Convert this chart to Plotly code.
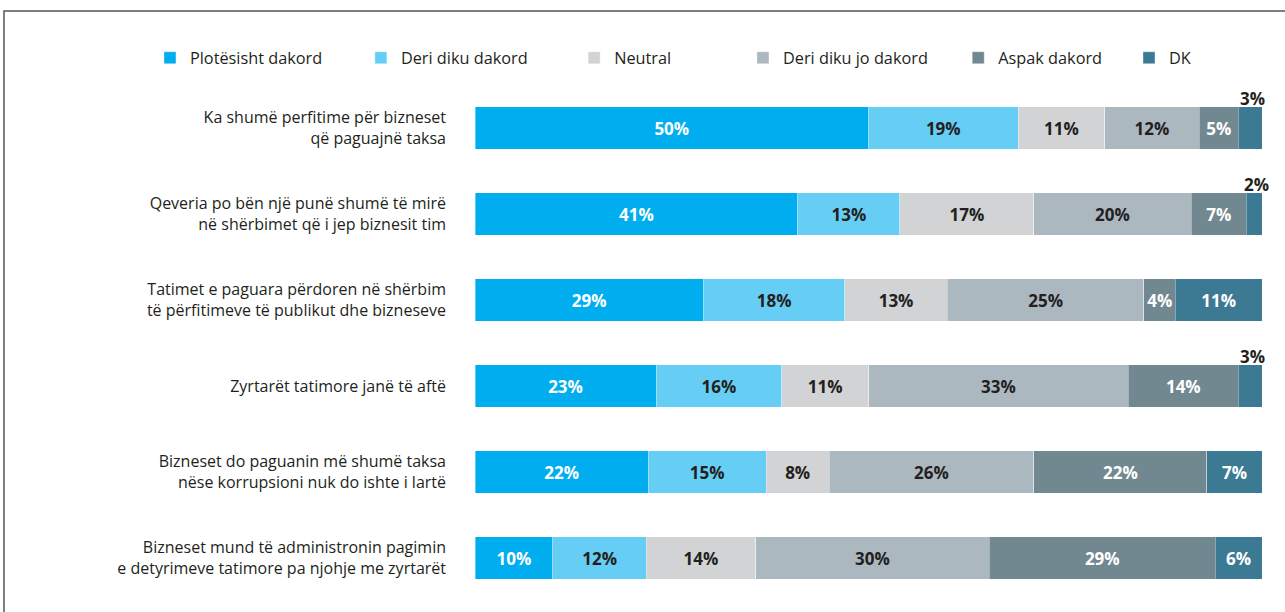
import plotly.graph_objects as go

# Survey statements (top to bottom)
categories = [
    "Ka shumë perfitime për bizneset<br>që paguajnë taksa",
    "Qeveria po bën një punë shumë të mirë<br>në shërbimet që i jep biznesit tim",
    "Tatimet e paguara përdoren në shërbim<br>të përfitimeve të publikut dhe bizneseve",
    "Zyrtarët tatimore janë të aftë",
    "Bizneset do paguanin më shumë taksa<br>nëse korrupsioni nuk do ishte i lartë",
    "Bizneset mund të administronin pagimin<br>e detyrimeve tatimore pa njohje me zyrtarët",
]

# Share of answers per statement (%)
plotesisht_dakord = [50, 41, 29, 23, 22, 10]
deri_diku_dakord = [19, 13, 18, 16, 15, 12]
neutral = [11, 17, 13, 11, 8, 14]
deri_diku_jo_dakord = [12, 20, 25, 33, 26, 30]
aspak_dakord = [5, 7, 4, 14, 22, 29]
dk = [3, 2, 11, 3, 7, 6]

series_names = ["Plotësisht dakord", "Deri diku dakord", "Neutral",
                "Deri diku jo dakord", "Aspak dakord", "DK"]
series_values = [plotesisht_dakord, deri_diku_dakord, neutral,
                 deri_diku_jo_dakord, aspak_dakord, dk]
colors = ["#00AEEF", "#66CEF5", "#D1D3D4", "#ABB8C0", "#728891", "#3C7A94"]
text_colors = ["white", "#231F20", "#231F20", "#231F20", "white", "white"]

# Legend entries placed individually along the top row (paper x)
legend_x = [-0.413, -0.145, 0.126, 0.3405, 0.614, 0.831]

DARK = "#231F20"
FONT = "Open Sans"
SMALL = 3  # segments this small get their label above the bar

fig = go.Figure()
for i, (name, vals) in enumerate(zip(series_names, series_values)):
    is_last = i == len(series_names) - 1
    labels = ["" if (is_last and v <= SMALL) else f"{v}%" for v in vals]
    fig.add_trace(go.Bar(
        name=name,
        y=categories,
        x=vals,
        orientation="h",
        marker=dict(color=colors[i], line=dict(color="rgba(255,255,255,0.6)", width=0.6)),
        text=labels,
        textposition="inside",
        insidetextanchor="middle",
        textangle=0,
        constraintext="none",
        textfont=dict(family=FONT, size=17, color=text_colors[i], weight="bold"),
        width=0.49,
        hoverinfo="skip",
        showlegend=True,
        legend="legend" if i == 0 else f"legend{i + 1}",
    ))

# Labels for the thin last segments, above the bar end
annotations = []
for r, cat in enumerate(categories):
    row = [s[r] for s in series_values]
    total = sum(row)
    last = row[-1]
    if last <= SMALL:
        mid = (total - last / 2) / total * 100
        annotations.append(dict(
            x=mid, y=cat, xref="x", yref="y",
            text=f"<b>{last}%</b>", showarrow=False,
            yanchor="bottom", yshift=16, xshift=2,
            font=dict(family=FONT, size=17, color=DARK),
        ))

legends = {}
for i, lx in enumerate(legend_x):
    key = "legend" if i == 0 else f"legend{i + 1}"
    legends[key] = dict(
        x=lx, y=1.052, xanchor="left", yanchor="middle",
        orientation="h", bgcolor="rgba(0,0,0,0)",
        font=dict(family=FONT, size=16.3, color=DARK),
        itemwidth=30, tracegroupgap=0, visible=True,
    )

fig.update_layout(
    barmode="stack",
    barnorm="percent",
    showlegend=True,
    width=1285, height=612,
    margin=dict(l=475, r=23, t=85, b=11),
    paper_bgcolor="white",
    plot_bgcolor="white",
    font=dict(family=FONT, color=DARK),
    xaxis=dict(range=[0, 100], visible=False, fixedrange=True),
    yaxis=dict(
        autorange="reversed", showgrid=False, zeroline=False, showline=False,
        ticks="", ticklabelstandoff=28,
        tickfont=dict(family=FONT, size=16, color=DARK),
    ),
    annotations=annotations,
    shapes=[dict(
        type="rect", xref="paper", yref="paper",
        x0=-0.5985, x1=1.2, y0=-0.2, y1=1.1434,
        line=dict(color="#555555", width=1.5),
        fillcolor="rgba(0,0,0,0)", layer="below",
    )],
    **legends,
)

fig.write_html("out.html")
